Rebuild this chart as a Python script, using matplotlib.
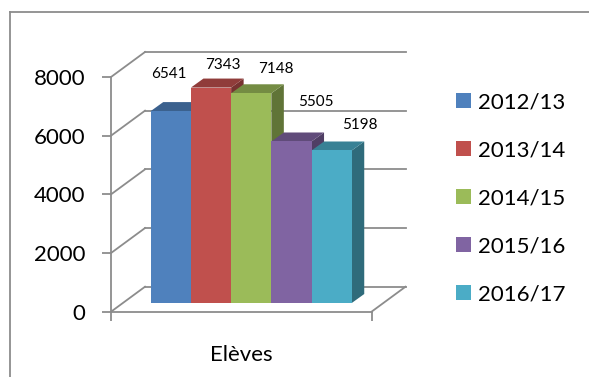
import matplotlib.pyplot as plt
from matplotlib.patches import Polygon, Patch
from matplotlib.lines import Line2D
import matplotlib.colors as mcolors
import numpy as np

years = ['2012/13', '2013/14', '2014/15', '2015/16', '2016/17']
eleves = [6541, 7343, 7148, 5505, 5198]
category = 'Elèves'
y_ticks = [0, 2000, 4000, 6000, 8000]

colors = ['#4F81BD', '#C0504D', '#9BBB59', '#8064A2', '#4BACC6']
# Excel moved the value labels around a bit (pixels, right / up from the bar top)
label_shift = [(-2, 37), (12, 23), (25, 24), (24, 39), (28, 25)]

grid_col = '#8C8C8C'

plt.rcParams['font.family'] = ['Lato', 'DejaVu Sans']

fig = plt.figure(figsize=(5.89, 3.77), dpi=100)
ax = fig.add_axes([0.1885, 0.1732, 0.4423, 0.6226])
xmin, xmax = -1.194, 5.286
ax.set_xlim(xmin, xmax)
ax.set_ylim(0, 8000)


def px(dx, dy):
    # convert a pixel offset into data units
    p0 = ax.transData.transform((0, 0))
    p1 = ax.transData.transform((1, 1000))
    return dx / (p1[0] - p0[0]), dy * 1000 / (p1[1] - p0[1])


wx, wy = px(34, 25)      # depth of the walls
fx, fy = px(11.8, 8.7)   # where the bars stand
bx, by = px(12.5, 9)     # depth of a bar

# walls and floor
for v in y_ticks:
    ax.plot([xmin, xmin + wx], [v, v + wy], color=grid_col, lw=1.3, clip_on=False, zorder=1)
    ax.plot([xmin + wx, xmax + wx], [v + wy, v + wy], color=grid_col, lw=1.3, clip_on=False, zorder=1)
ax.plot([xmax, xmax + wx], [0, wy], color=grid_col, lw=1.3, clip_on=False, zorder=1)

# bars
for i, (v, c) in enumerate(zip(eleves, colors)):
    rgb = np.array(mcolors.to_rgb(c))
    x0, x1 = i - 0.5 + fx, i + 0.5 + fx
    y0, y1 = fy, v + fy
    side = Polygon([(x1, y0), (x1 + bx, y0 + by), (x1 + bx, y1 + by), (x1, y1)],
                   closed=True, fc=rgb * 0.62, ec='none', clip_on=False, zorder=2 + i)
    top = Polygon([(x0, y1), (x1, y1), (x1 + bx, y1 + by), (x0 + bx, y1 + by)],
                  closed=True, fc=rgb * 0.75, ec='none', clip_on=False, zorder=2 + i)
    ax.add_patch(side)
    ax.add_patch(top)
    ax.bar(i + fx, v, bottom=fy, width=1, color=c, zorder=2 + i, clip_on=False)
    ax.annotate(str(v), xy=(i + fx, y1), xytext=label_shift[i], textcoords='offset pixels',
                ha='center', va='center', fontsize=11, zorder=20)

# axes look
for s in ['top', 'right']:
    ax.spines[s].set_visible(False)
for s in ['left', 'bottom']:
    ax.spines[s].set_color(grid_col)
    ax.spines[s].set_linewidth(1.3)
    ax.spines[s].set_zorder(1)
ax.set_yticks(y_ticks)
ax.tick_params(axis='y', length=6.5, width=1.3, color=grid_col, pad=12, labelsize=16)
ax.set_xticks([xmin, xmax])
ax.set_xticklabels(['', ''])
ax.tick_params(axis='x', length=6.5, width=1.3, color=grid_col)
ax.annotate(category, xy=(0.5, 0), xycoords='axes fraction', xytext=(0, -31),
            textcoords='offset points', ha='center', va='center', fontsize=16)

# legend
handles = [Patch(facecolor=c, edgecolor='none') for c in colors]
fig.legend(handles, years, loc='center left', bbox_to_anchor=(0.7742, 0.4735),
           frameon=False, fontsize=16, handlelength=0.68, handleheight=0.68,
           handletextpad=0.32, labelspacing=1.26, borderpad=0, borderaxespad=0)

# chart frame (only left and top edges are inside the picture)
fig.add_artist(Line2D([10 / 589, 10 / 589], [0, 1 - 12 / 377], color=grid_col, lw=1.3))
fig.add_artist(Line2D([10 / 589, 1], [1 - 12 / 377, 1 - 12 / 377], color=grid_col, lw=1.3))

fig.savefig('out.png', dpi=100)
